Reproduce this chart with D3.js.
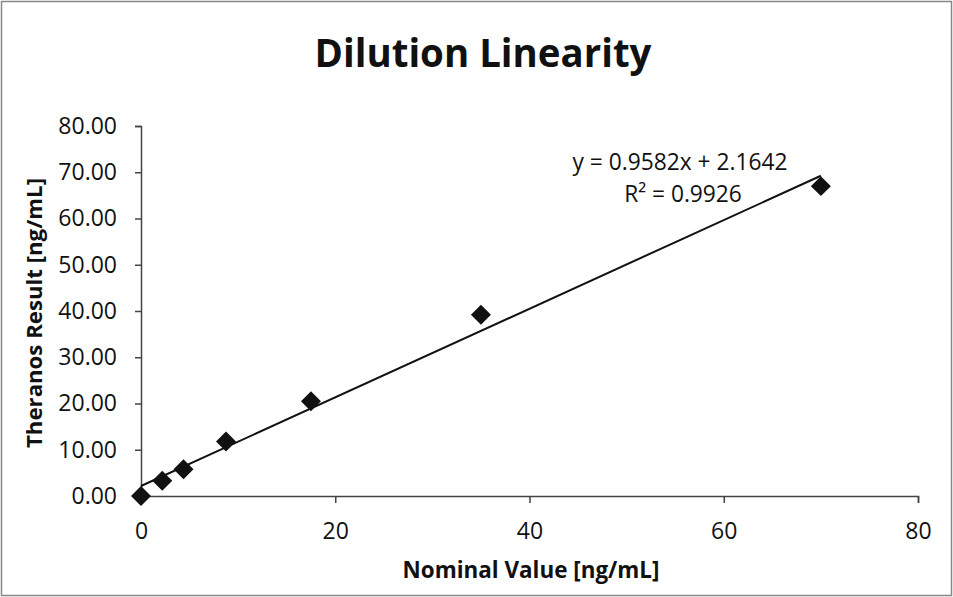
<!DOCTYPE html>
<html lang="en">
<head>
    <meta charset="UTF-8">
    <title>Dilution Linearity</title>
    <script src="https://d3js.org/d3.v7.min.js"></script>
    <style>
        body {
            margin: 0;
            background: #fff;
            font-family: "Open Sans", sans-serif;
        }

        .axis path, .axis line {
            stroke: #444;
            stroke-width: 1.5px;
        }

        .axis text {
            font-family: "Open Sans", sans-serif;
            font-size: 23px;
            fill: #111;
        }
    </style>
</head>
<body>
<svg id="chart"></svg>
<script>
    const nominal = [0, 2.1875, 4.375, 8.75, 17.5, 35, 70];
    const result = [0, 3.3, 5.8, 11.8, 20.5, 39.2, 67.0];

    // Excel linear trendline
    const slope = 0.9582;
    const intercept = 2.1642;
    const rSquared = 0.9926;

    const xTicks = [0, 20, 40, 60, 80];
    const yTicks = [0, 10, 20, 30, 40, 50, 60, 70, 80];

    const width = 953;
    const height = 597;
    const margin = {top: 126, right: 35, bottom: 101, left: 141};

    const svg = d3.select("#chart")
        .attr("width", width)
        .attr("height", height);

    // shrink/grow a label's font so it spans the width seen in the picture
    function fitWidth(sel, target) {
        const w = sel.node().getComputedTextLength();
        sel.attr("font-size", +sel.attr("font-size") * target / w);
        return sel;
    }

    // Outer chart border
    svg.append("rect")
        .attr("x", 1.5)
        .attr("y", 1.5)
        .attr("width", width - 3)
        .attr("height", height - 3)
        .attr("fill", "#fff")
        .attr("stroke", "#888")
        .attr("stroke-width", 1.5);

    const x = d3.scaleLinear().domain([0, 80]).range([margin.left, width - margin.right]);
    const y = d3.scaleLinear().domain([0, 80]).range([height - margin.bottom, margin.top]);

    // Axes
    svg.append("g")
        .attr("class", "axis")
        .attr("transform", `translate(0,${y(0)})`)
        .call(d3.axisBottom(x).tickValues(xTicks).tickSizeInner(7).tickSizeOuter(7).tickPadding(20)
            .tickFormat(d3.format("d")));

    svg.append("g")
        .attr("class", "axis")
        .attr("transform", `translate(${x(0)},0)`)
        .call(d3.axisLeft(y).tickValues(yTicks).tickSizeInner(6).tickSizeOuter(6).tickPadding(18)
            .tickFormat(d3.format(".2f")));

    // Trendline
    svg.append("line")
        .attr("x1", x(0))
        .attr("y1", y(intercept))
        .attr("x2", x(d3.max(nominal)))
        .attr("y2", y(slope * d3.max(nominal) + intercept))
        .attr("stroke", "#111")
        .attr("stroke-width", 2);

    // Diamond markers
    const diamond = d3.symbol().type(d3.symbolSquare).size(200);
    svg.append("g")
        .selectAll("path")
        .data(nominal.map((d, i) => [d, result[i]]))
        .join("path")
        .attr("d", diamond)
        .attr("transform", d => `translate(${x(d[0])},${y(d[1])}) rotate(45)`)
        .attr("fill", "#111");

    // Title
    fitWidth(svg.append("text")
        .attr("x", 483)
        .attr("y", 67)
        .attr("text-anchor", "middle")
        .attr("font-size", 36)
        .attr("font-weight", "bold")
        .attr("fill", "#111")
        .text("Dilution Linearity"), 337);

    // Axis titles
    fitWidth(svg.append("text")
        .attr("x", 531)
        .attr("y", 578)
        .attr("text-anchor", "middle")
        .attr("font-size", 22)
        .attr("font-weight", "bold")
        .attr("fill", "#111")
        .text("Nominal Value [ng/mL]"), 257);

    fitWidth(svg.append("text")
        .attr("transform", "translate(42,313) rotate(-90)")
        .attr("text-anchor", "middle")
        .attr("font-size", 22)
        .attr("font-weight", "bold")
        .attr("fill", "#111")
        .text("Theranos Result [ng/mL]"), 270);

    // Trendline equation
    const eq = svg.append("g").attr("fill", "#111").attr("text-anchor", "middle");
    fitWidth(eq.append("text")
        .attr("x", 680)
        .attr("y", 170)
        .attr("font-size", 20)
        .text(`y = ${slope}x + ${intercept}`), 215);
    eq.append("text")
        .attr("x", 683)
        .attr("y", 202)
        .attr("font-size", eq.select("text").attr("font-size"))
        .text(`R² = ${rSquared}`);
</script>
</body>
</html>
